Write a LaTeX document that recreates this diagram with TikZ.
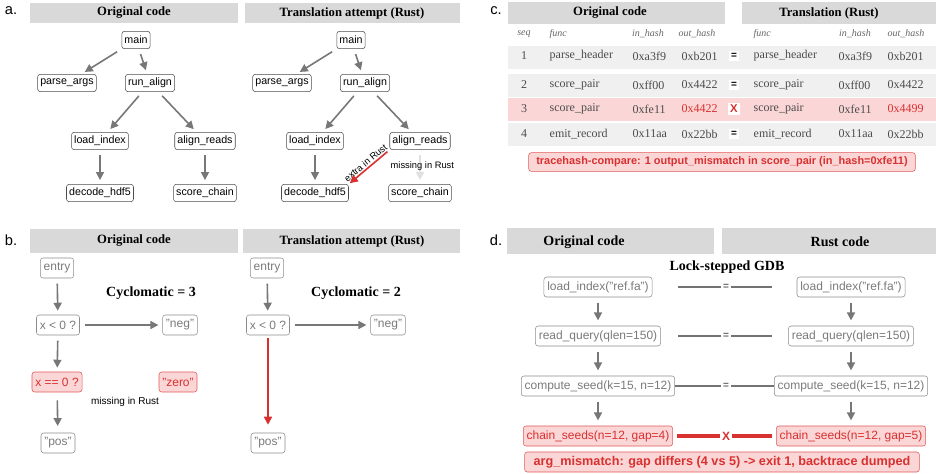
\documentclass[tikz,border=0pt]{standalone}
\usepackage{fontspec}
\setmainfont{Liberation Serif}
\setsansfont{Liberation Sans}
\usetikzlibrary{arrows.meta}
\definecolor{hdr}{HTML}{D9D9D9}
\definecolor{band}{HTML}{F0F0F0}
\definecolor{rd}{HTML}{D93030}
\definecolor{pk}{HTML}{FBD6D6}
\definecolor{ar}{HTML}{777777}
\definecolor{tx}{HTML}{7A7A7A}
\tikzset{
 hbar/.style={fill=hdr,draw=none},
 htxt/.style={font=\rmfamily\bfseries\fontsize{9.5}{11}\selectfont},
 fn/.style={draw=black!70,rounded corners=2pt,font=\sffamily\fontsize{8}{9}\selectfont,inner sep=2pt,minimum height=13pt},
 gn/.style={draw=black!45,rounded corners=2pt,text=tx,font=\sffamily\fontsize{9}{10}\selectfont,inner sep=2.5pt,minimum height=15pt},
 rn/.style={draw=rd!80,fill=pk,rounded corners=2pt,text=rd,font=\sffamily\fontsize{9}{10}\selectfont,inner sep=2.5pt,minimum height=15pt},
 ga/.style={draw=ar,line width=1.2pt,-{Triangle[length=6pt,width=6pt]}},
 ra/.style={draw=rd,line width=1.2pt,-{Triangle[length=6pt,width=6pt]}},
 la/.style={draw=black!12,line width=1.2pt,-{Triangle[length=6pt,width=6pt]}},
 lbl/.style={font=\sffamily\fontsize{11}{12}\selectfont},
 sm/.style={font=\sffamily\fontsize{7}{8}\selectfont},
 ct/.style={font=\rmfamily\fontsize{9}{10}\selectfont,text=black!70},
 ch/.style={font=\rmfamily\itshape\fontsize{7.5}{8}\selectfont,text=black!60},
}
\begin{document}
\begin{tikzpicture}[x=0.75pt,y=-0.75pt]
\useasboundingbox (0,0) rectangle (936,474);
% ---------- panel a
\node[lbl] (la) at (11,11) {a.};
\fill[hbar] (30,3) rectangle (238,23); \node[htxt] (ha1) at (134,13) {Original code};
\fill[hbar] (245,3) rectangle (460,23); \node[htxt] (ha2) at (352,13) {Translation attempt (Rust)};
\foreach \p/\dx in {L/0,R/215}{
 \node[fn] (main\p) at (136+\dx,40) {main};
 \node[fn] (pa\p) at (67+\dx,83) {parse\_args};
 \node[fn] (ru\p) at (150+\dx,83) {run\_align};
 \node[fn] (lo\p) at (100+\dx,141) {load\_index};
 \node[fn] (al\p) at (205+\dx,141) {align\_reads};
 \node[fn] (de\p) at (100+\dx,193) {decode\_hdf5};
 \node[fn] (sc\p) at (205+\dx,193) {score\_chain};
 \draw[ga,shorten <=4pt,shorten >=3pt] (main\p) -- (pa\p);
 \draw[ga,shorten <=4pt,shorten >=3pt] (main\p) -- (ru\p);
 \draw[ga,shorten <=4pt,shorten >=3pt] (ru\p) -- (lo\p);
 \draw[ga,shorten <=4pt,shorten >=3pt] (ru\p) -- (al\p);
 \draw[ga,shorten <=4pt,shorten >=3pt] (lo\p) -- (de\p);
}
\draw[ga,shorten <=4pt,shorten >=3pt] (alL) -- (scL);
\draw[la,shorten <=4pt,shorten >=3pt] (alR) -- (scR);
\draw[ra,shorten <=2pt,shorten >=1pt] (alR.south west) -- node[sm,sloped,above,pos=0.5,inner sep=1pt] {extra in Rust} (deR.north east);
\node[sm,anchor=west] (mis1) at (386,166) {missing in Rust};
% ---------- panel b
\node[lbl] (lb) at (11,240) {b.};
\fill[hbar] (30,229) rectangle (238,253); \node[htxt] (hb1) at (134,241) {Original code};
\fill[hbar] (243,229) rectangle (460,253); \node[htxt] (hb2) at (352,241) {Translation attempt (Rust)};
\node[gn] (en1) at (57,268) {entry};
\node[gn] (x1) at (58,325) {x < 0 ?};
\node[gn] (ng1) at (180,325) {"neg"};
\node[rn] (xz1) at (57,382) {x == 0 ?};
\node[rn] (ze1) at (178,382) {"zero"};
\node[gn] (po1) at (58,443) {"pos"};
\node[htxt,font=\rmfamily\bfseries\fontsize{10.5}{12}\selectfont] (cy1) at (151,293) {Cyclomatic = 3};
\node[sm,font=\sffamily\fontsize{7.5}{8}\selectfont] (mis2) at (125,402) {missing in Rust};
\draw[ga,shorten <=4pt,shorten >=3pt] (en1) -- (x1);
\draw[ga,shorten <=4pt,shorten >=3pt] (x1) -- (ng1);
\draw[ga,shorten <=4pt,shorten >=3pt] (x1) -- (xz1);
\draw[ga,shorten <=6pt,shorten >=5pt] (xz1) -- (po1);
\node[gn] (en2) at (267,268) {entry};
\node[gn] (x2) at (268,325) {x < 0 ?};
\node[gn] (ng2) at (388,325) {"neg"};
\node[gn] (po2) at (268,443) {"pos"};
\node[htxt,font=\rmfamily\bfseries\fontsize{10.5}{12}\selectfont] (cy2) at (356,293) {Cyclomatic = 2};
\draw[ga,shorten <=4pt,shorten >=3pt] (en2) -- (x2);
\draw[ga,shorten <=4pt,shorten >=3pt] (x2) -- (ng2);
\draw[ra,shorten <=2pt,shorten >=6pt] (x2) -- (po2);
% ---------- panel c
\node[lbl] (lc) at (496,11) {c.};
\fill[hbar] (508,2) rectangle (725,24); \node[htxt] (hc1) at (610,13) {Original code};
\fill[hbar] (742,2) rectangle (936,24); \node[htxt] (hc2) at (829,13) {Translation (Rust)};
\node[ch] at (524,34) {seq};
\node[ch,anchor=west] at (545,34) {func};
\node[ch] at (648,34) {in\_hash};
\node[ch] at (697,34) {out\_hash};
\node[ch,anchor=west] at (749,34) {func};
\node[ch] at (855,34) {in\_hash};
\node[ch] at (906,34) {out\_hash};
\fill[band] (508,46) rectangle (936,69);
\fill[band] (508,74) rectangle (936,97);
\fill[pk] (508,98) rectangle (936,121);
\fill[band] (508,123) rectangle (936,146);
\foreach \y/\s/\f/\i/\o in {56/1/parse\_header/0xa3f9/0xb201,85/2/score\_pair/0xff00/0x4422,134/4/emit\_record/0x11aa/0x22bb}{
 \node[ct] at (524,\y) {\s};
 \node[ct,anchor=west] at (545,\y) {\f};
 \node[ct,anchor=west] at (628,\y) {\i};
 \node[ct,anchor=west] at (677,\y) {\o};
 \node[fill=white,inner sep=1.5pt,font=\sffamily\bfseries\fontsize{7.5}{8}\selectfont] at (734,\y) {=};
 \node[ct,anchor=west] at (749,\y) {\f};
 \node[ct,anchor=west] at (834,\y) {\i};
 \node[ct,anchor=west] at (883,\y) {\o};
}
\node[ct] at (524,109) {3};
\node[ct,anchor=west] at (545,109) {score\_pair};
\node[ct,anchor=west] at (628,109) {0xfe11};
\node[ct,anchor=west,text=rd] at (677,109) {0x4422};
\node[fill=white,text=rd,inner sep=1.5pt,font=\sffamily\bfseries\fontsize{8.5}{9}\selectfont] (xc) at (734,109) {X};
\node[ct,anchor=west] at (749,109) {score\_pair};
\node[ct,anchor=west] at (834,109) {0xfe11};
\node[ct,anchor=west,text=rd] at (883,109) {0x4499};
\node[draw=rd!80,fill=pk,rounded corners=2pt,text=rd,font=\sffamily\bfseries\fontsize{8.2}{9}\selectfont,minimum width=290pt,minimum height=14pt,inner sep=1pt] (tc) at (722,162) {tracehash-compare: 1 output\_mismatch in score\_pair (in\_hash=0xfe11)};
% ---------- panel d
\node[lbl] (ld) at (496,240) {d.};
\fill[hbar] (507,228) rectangle (714,254); \node[htxt,font=\rmfamily\bfseries\fontsize{10.5}{12}\selectfont] (hd1) at (584,242) {Original code};
\fill[hbar] (722,228) rectangle (936,254); \node[htxt,font=\rmfamily\bfseries\fontsize{10.5}{12}\selectfont] (hd2) at (840,242) {Rust code};
\node[htxt,font=\rmfamily\bfseries\fontsize{10.5}{12}\selectfont] (lsg) at (727,267) {Lock-stepped GDB};
\foreach \n/\t/\y in {1/{load\_index("ref.fa")}/287,2/{read\_query(qlen=150)}/336,3/{compute\_seed(k=15, n=12)}/386}{
 \node[gn] (dl\n) at (598,\y) {\t};
 \node[gn] (dr\n) at (851,\y) {\t};
 \node[fill=white,inner sep=1pt,font=\sffamily\bfseries\fontsize{7.5}{8}\selectfont,text=black!60] (eq\n) at (726,\y) {=};
}
\node[rn] (dl4) at (598,436) {chain\_seeds(n=12, gap=4)};
\node[rn] (dr4) at (851,436) {chain\_seeds(n=12, gap=5)};
\node[text=rd,inner sep=1pt,font=\sffamily\bfseries\fontsize{9}{9}\selectfont] (eq4) at (726,436) {X};
\foreach \a/\b in {1/2,2/3,3/4}{
 \draw[ga,shorten <=4pt,shorten >=4pt] (dl\a) -- (dl\b);
 \draw[ga,shorten <=4pt,shorten >=4pt] (dr\a) -- (dr\b);
}
\coordinate (c1a) at (678,287); \coordinate (c1b) at (772,287);
\coordinate (c2a) at (678,336); \coordinate (c2b) at (772,336);
\draw[black!55,line width=0.8pt] (c1a) -- (eq1.west) (eq1.east) -- (c1b);
\draw[black!55,line width=0.8pt] (c2a) -- (eq2.west) (eq2.east) -- (c2b);
\draw[black!55,line width=0.8pt] (dl3.east) -- (eq3.west) (eq3.east) -- (dr3.west);
\draw[rd,line width=2.4pt] ([xshift=3pt]dl4.east) -- (eq4.west) (eq4.east) -- ([xshift=-3pt]dr4.west);
\node[draw=rd!80,fill=pk,rounded corners=2pt,text=rd,font=\sffamily\bfseries\fontsize{9.5}{10.5}\selectfont,minimum width=296pt,minimum height=15pt,inner sep=1pt] (td) at (722,462) {arg\_mismatch: gap differs (4 vs 5) -> exit 1, backtrace dumped};
\end{tikzpicture}
\end{document}
